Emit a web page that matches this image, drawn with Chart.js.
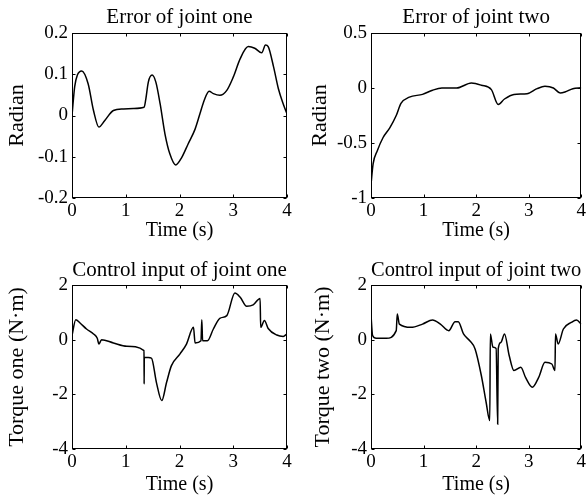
<!DOCTYPE html>
<html>
<head>
<meta charset="utf-8">
<script src="https://cdn.jsdelivr.net/npm/chart.js@4/dist/chart.umd.min.js"></script>
<style>
  body { margin: 0; background: #fff; }
  #wrap { position: relative; width: 588px; height: 498px; overflow: hidden; }
  canvas { position: absolute; }
</style>
</head>
<body>
<div id="wrap">
  <canvas id="c1" width="294" height="249" style="left:0;top:0"></canvas>
  <canvas id="c2" width="294" height="249" style="left:294px;top:0"></canvas>
  <canvas id="c3" width="294" height="249" style="left:0;top:249px"></canvas>
  <canvas id="c4" width="294" height="249" style="left:294px;top:249px"></canvas>
</div>
<script>
// time (s) and values
const err1Time = [0, 0.05, 0.1, 0.18, 0.3, 0.4, 0.5, 0.61, 0.77, 0.96, 1.14, 1.34, 1.37, 1.42, 1.49, 1.56, 1.64, 1.73, 1.82, 1.93, 2.04, 2.16, 2.29, 2.38, 2.46, 2.55, 2.63, 2.75, 2.88, 3.0, 3.13, 3.28, 3.4, 3.53, 3.6, 3.65, 3.75, 3.84, 3.93, 4.0];
const err1Vals = [0, 0.07, 0.098, 0.108, 0.077, 0.012, -0.028, -0.012, 0.012, 0.016, 0.017, 0.02, 0.037, 0.081, 0.098, 0.081, 0.028, -0.045, -0.093, -0.12, -0.102, -0.069, -0.033, 0.004, 0.037, 0.059, 0.053, 0.049, 0.061, 0.093, 0.138, 0.167, 0.163, 0.152, 0.171, 0.167, 0.118, 0.065, 0.028, 0.004];

const err2Time = [0, 0.04, 0.12, 0.23, 0.36, 0.48, 0.57, 0.73, 0.98, 1.17, 1.35, 1.63, 1.91, 2.1, 2.29, 2.42, 2.54, 2.72, 2.97, 3.16, 3.31, 3.47, 3.6, 3.69, 3.84, 4.0];
const err2Vals = [-0.88, -0.69, -0.57, -0.45, -0.36, -0.25, -0.14, -0.083, -0.058, -0.02, 0, 0, 0.045, 0.025, -0.015, -0.15, -0.1, -0.058, -0.052, -0.006, 0.015, 0, -0.046, -0.037, -0.006, 0.003];

const tq1Time = [0, 0.07, 0.15, 0.27, 0.4, 0.47, 0.5, 0.55, 0.77, 1.02, 1.34, 1.342, 1.345, 1.42, 1.48, 1.57, 1.67, 1.76, 1.85, 2.01, 2.13, 2.26, 2.29, 2.4, 2.415, 2.43, 2.52, 2.63, 2.75, 2.88, 3.03, 3.13, 3.25, 3.37, 3.5, 3.51, 3.58, 3.65, 3.81, 3.93, 4.0];
const tq1Vals = [0.15, 0.73, 0.61, 0.39, 0.21, 0.05, -0.16, 0, -0.12, -0.24, -0.40, -1.62, -0.65, -0.65, -0.68, -1.56, -2.23, -1.56, -0.95, -0.52, -0.16, 0.45, -0.12, -0.04, 0.73, -0.04, -0.04, 0.39, 0.78, 0.88, 1.71, 1.55, 1.22, 1.27, 1.51, 0.45, 0.70, 0.41, 0.17, 0.12, 0.21];

const tq2Time = [0, 0.03, 0.1, 0.29, 0.48, 0.5, 0.54, 0.76, 0.98, 1.17, 1.32, 1.48, 1.6, 1.66, 1.76, 1.88, 1.98, 2.1, 2.19, 2.26, 2.27, 2.32, 2.38, 2.41, 2.42, 2.47, 2.54, 2.63, 2.72, 2.85, 2.94, 3.07, 3.19, 3.31, 3.44, 3.5, 3.51, 3.56, 3.66, 3.81, 3.91, 4.0];
const tq2Vals = [0.9, 0.15, 0.05, 0.05, 0.33, 0.94, 0.57, 0.45, 0.57, 0.72, 0.57, 0.33, 0.66, 0.66, 0.21, -0.04, -0.34, -1.32, -2.29, -2.96, 0.21, -0.28, -0.32, -3.09, -0.34, -0.1, 0.21, -0.59, -1.13, -1.01, -1.38, -1.74, -1.38, -0.83, -0.89, -1.13, 0.21, -0.16, 0.39, 0.63, 0.72, 0.57];

const FONT = "'Liberation Serif', 'Times New Roman', serif";

// matlab-like box with small inward ticks on every side
const frame = {
  id: 'frame',
  afterDraw(chart) {
    const { ctx, chartArea: a, scales: { x, y } } = chart;
    const L = Math.round(a.left) + 0.5, R = Math.round(a.right) - 0.5;
    const T = Math.round(a.top) + 0.5, B = Math.round(a.bottom) - 0.5;
    ctx.save();
    ctx.strokeStyle = '#000';
    ctx.lineWidth = 1;
    ctx.strokeRect(L, T, R - L, B - T);
    ctx.beginPath();
    x.ticks.forEach(t => {
      const px = Math.round(x.getPixelForValue(t.value)) + 0.5;
      ctx.moveTo(px, B); ctx.lineTo(px, B - 3);
      ctx.moveTo(px, T); ctx.lineTo(px, T + 3);
    });
    y.ticks.forEach(t => {
      const py = Math.round(y.getPixelForValue(t.value)) + 0.5;
      ctx.moveTo(L, py); ctx.lineTo(L + 3, py);
      ctx.moveTo(R, py); ctx.lineTo(R - 3, py);
    });
    ctx.stroke();
    ctx.restore();
  }
};

const plainNum = v => String(Number(v.toFixed(3)));

function makePanel(id, time, vals, c) {
  new Chart(document.getElementById(id), {
    type: 'line',
    data: {
      datasets: [{
        data: time.map((t, i) => ({ x: t, y: vals[i] })),
        borderColor: '#000',
        borderWidth: 1.5,
        pointRadius: 0,
        cubicInterpolationMode: 'monotone',
        fill: false
      }]
    },
    options: {
      responsive: false,
      animation: false,
      layout: { padding: { left: 0, right: c.padRight, top: 0, bottom: 0 } },
      plugins: {
        legend: { display: false },
        tooltip: { enabled: false },
        title: {
          display: true, text: c.title, color: '#000', fullSize: false,
          font: { family: FONT, size: 21, weight: 'normal' },
          padding: { top: c.titleTop, bottom: c.titleBottom }
        }
      },
      scales: {
        x: {
          type: 'linear', min: 0, max: 4,
          afterFit: s => { s.height = c.xHeight; },
          ticks: { stepSize: 1, color: '#000', padding: 2, maxRotation: 0,
                   callback: plainNum, font: { family: FONT, size: 19 } },
          grid: { display: false, drawTicks: false },
          border: { display: false },
          title: { display: true, text: 'Time (s)', color: '#000',
                   font: { family: FONT, size: 20 }, padding: { top: 0, bottom: c.xTitlePad } }
        },
        y: {
          min: c.yMin, max: c.yMax,
          afterFit: s => { s.width = c.yWidth; },
          ticks: { stepSize: c.yStep, color: '#000', padding: 4,
                   callback: plainNum, font: { family: FONT, size: 19 } },
          grid: { display: false, drawTicks: false },
          border: { display: false },
          title: { display: true, text: c.yLabel, color: '#000',
                   font: { family: FONT, size: 22 }, padding: { top: c.yTitlePad, bottom: 0 } }
        }
      }
    },
    plugins: [frame]
  });
}

makePanel('c1', err1Time, err1Vals, {
  title: 'Error of joint one', yLabel: 'Radian', yMin: -0.2, yMax: 0.2, yStep: 0.1,
  titleTop: 4.4, titleBottom: 3.4, xHeight: 51, xTitlePad: 6, yWidth: 72, yTitlePad: 4, padRight: 7
});
makePanel('c2', err2Time, err2Vals, {
  title: 'Error of joint two', yLabel: 'Radian', yMin: -1, yMax: 0.5, yStep: 0.5,
  titleTop: 4.4, titleBottom: 3.4, xHeight: 51, xTitlePad: 6, yWidth: 77, yTitlePad: 13, padRight: 3
});
makePanel('c3', tq1Time, tq1Vals, {
  title: 'Control input of joint one', yLabel: 'Torque one (N·m)', yMin: -4, yMax: 2, yStep: 2,
  titleTop: 8.4, titleBottom: 2.4, xHeight: 49, xTitlePad: 1, yWidth: 72, yTitlePad: 4, padRight: 7
});
makePanel('c4', tq2Time, tq2Vals, {
  title: 'Control input of joint two', yLabel: 'Torque two (N·m)', yMin: -4, yMax: 2, yStep: 2,
  titleTop: 8.4, titleBottom: 2.4, xHeight: 49, xTitlePad: 1, yWidth: 77, yTitlePad: 16, padRight: 3
});
</script>
</body>
</html>
